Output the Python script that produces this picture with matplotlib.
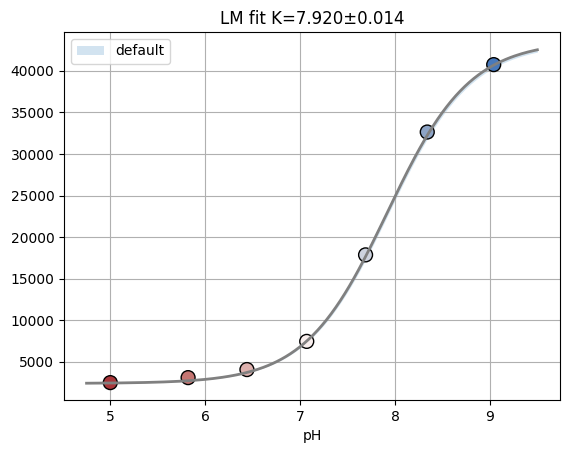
import numpy as np
import matplotlib.pyplot as plt
import seaborn as sns

# measured points
ph = [5.00, 5.82, 6.44, 7.07, 7.69, 8.34, 9.04]
signal = [2500, 3100, 4070, 7460, 17870, 32650, 40760]

# fit parameters (LM)
K = 7.920
K_err = 0.014
S0 = 2400
S1 = 43600

x = np.linspace(4.75, 9.5, 200)


def model(pH, k, s0, s1):
    return s0 + (s1 - s0) / (1 + 10 ** (k - pH))


y = model(x, K, S0, S1)
lo = np.minimum(model(x, K - K_err, S0, S1 - 250), model(x, K + K_err, S0, S1 - 250))
hi = np.maximum(model(x, K - K_err, S0, S1 + 100), model(x, K + K_err, S0, S1 + 100))

fig, ax = plt.subplots(figsize=(5.69, 4.55), dpi=100)
fig.subplots_adjust(left=0.1125, right=0.984, bottom=0.121, top=0.9297)

ax.fill_between(x, lo, hi, color='tab:blue', alpha=0.2, lw=0, label='default')
ax.scatter(ph, signal, c=np.arange(len(ph)), cmap=sns.color_palette('vlag_r', as_cmap=True),
           vmin=0, vmax=len(ph) - 0.6, s=100, edgecolors='k', zorder=3)
ax.plot(x, y, color='gray', lw=2, zorder=4)

ax.set_title(f'LM fit K={K:.3f}±{K_err:.3f}')
ax.set_xlabel('pH')
ax.grid(True)
ax.legend(loc='upper left')

fig.savefig('out.png')
